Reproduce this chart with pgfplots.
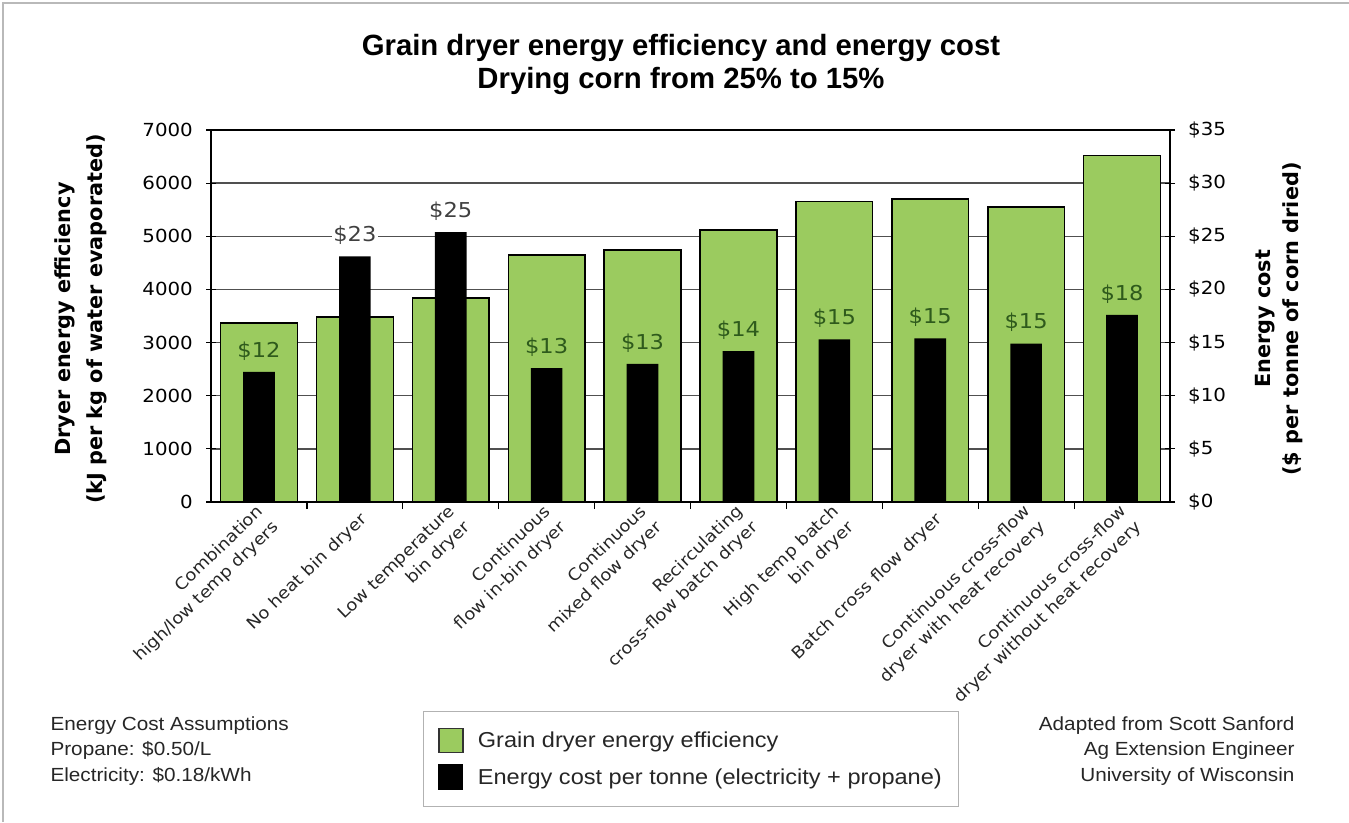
\documentclass[border=0pt]{standalone}
\usepackage{pgfplots}
\usepackage{pgfplotstable}
\pgfplotsset{compat=1.18}
\usepackage{fontspec}
\setmainfont{DejaVu Sans}[FakeStretch=1.1]
\newfontfamily\rotfont{DejaVu Sans}
\newfontfamily\arialfont{Liberation Sans}[FakeStretch=1.09]
\newfontfamily\titlefont{Liberation Sans}
\definecolor{grgreen}{HTML}{9BCB5F}
\definecolor{labgreen}{HTML}{2E5A1C}
\definecolor{labgray}{HTML}{404040}
\definecolor{gridgray}{HTML}{505050}

\pgfplotstableread{
x eff cost
0 3370 12.24
1 3480 23.1
2 3840 25.4
3 4650 12.6
4 4740 13.0
5 5120 14.2
6 5660 15.3
7 5700 15.4
8 5550 14.9
9 6520 17.6
}\datatable

\begin{document}
\begin{tikzpicture}
\path[use as bounding box] (0pt,0pt) rectangle (1349pt,-822pt);
\draw[gray!55, line width=1.2pt] (3pt,-822pt) -- (3pt,-3pt) -- (1349pt,-3pt);

% title
\node[anchor=base, font=\titlefont\bfseries\fontsize{29.3}{32}\selectfont] at (681pt,-55pt) {Grain dryer energy efficiency and energy cost};
\node[anchor=base, font=\titlefont\bfseries\fontsize{29.3}{32}\selectfont] at (681pt,-88pt) {Drying corn from 25\% to 15\%};

\begin{axis}[
  at={(211pt,-502pt)}, anchor=south west,
  scale only axis, width=959pt, height=372pt,
  xmin=-0.5, xmax=9.5, ymin=0, ymax=7000,
  /pgf/number format/assume math mode=true,
  /pgf/number format/1000 sep={},
  xtick={0,...,9},
  xticklabels={{Combination\\high/low temp dryers},{No heat bin dryer},{Low temperature\\bin dryer},{Continuous\\flow in-bin dryer},{Continuous\\mixed flow dryer},{Recirculating\\cross-flow batch dryer},{High temp batch\\bin dryer},{Batch cross flow dryer},{Continuous cross-flow\\dryer with heat recovery},{Continuous cross-flow\\dryer without heat recovery}},
  minor xtick={0.5,1.5,...,8.5},
  xtick pos=bottom, ytick pos=left,
  major x tick style={draw=none},
  minor x tick style={black, line width=1.2pt, yshift=-3.5pt},
  minor tick length=7pt,
  ytick={0,1000,...,7000},
  tick align=center,
  major tick length=10pt,
  y tick style={black, line width=1.2pt},
  ymajorgrids,
  grid style={gridgray, line width=1.5pt},
  axis line style={black, line width=1.8pt},
  yticklabel style={font=\fontsize{18}{20}\selectfont, inner sep=0pt, anchor=east, xshift=-13pt},
  xticklabel style={font=\fontsize{16.4}{22}\selectfont, rotate=44, anchor=east, align=right, inner sep=0pt, yshift=-14pt, text=black!85},
  ylabel={Dryer energy efficiency\\(kJ per kg of water evaporated)},
  ylabel style={align=center, font=\rotfont\bfseries\fontsize{20.8}{32}\selectfont, at={(axis description cs:-0.1356,0.492)}, anchor=center},
]
\addplot[ybar, bar width=0.8, bar shift=0pt, fill=grgreen, draw=black, line width=1.4pt] table[x=x, y=eff] {\datatable};
\end{axis}

\begin{axis}[
  at={(211pt,-502pt)}, anchor=south west,
  scale only axis, width=959pt, height=372pt,
  xmin=-0.5, xmax=9.5, ymin=0, ymax=35,
  axis x line=none, axis y line*=right,
  /pgf/number format/assume math mode=true,
  ytick={0,5,...,35},
  yticklabel={\$\pgfmathprintnumber{\tick}},
  tick align=center,
  major tick length=10pt,
  y tick style={black, line width=1.2pt},
  axis line style={-, black, line width=1.8pt},
  yticklabel style={font=\fontsize{18}{20}\selectfont, inner sep=0pt, anchor=west, xshift=13pt},
  ylabel={Energy cost\\(\$ per tonne of corn dried)},
  ylabel style={align=center, font=\rotfont\bfseries\fontsize{20.8}{28}\selectfont, at={(axis description cs:1.1137,0.492)}, anchor=center},
  legend style={at={(axis description cs:0.5005,-0.562)}, anchor=north, draw=gray!60, line width=1.2pt,
    inner xsep=15pt, inner ysep=16pt, row sep=11pt,
    font=\arialfont\fontsize{21.6}{24}\selectfont, text=black!85,
    cells={anchor=west}},
]
\addlegendimage{legend image code/.code={\draw[fill=grgreen, draw=black!80, line width=1.4pt] (0pt,-12pt) rectangle (24pt,12pt); \path[draw=none, fill=none] (0pt,0pt) -- (37pt,0pt);}}
\addlegendentry{Grain dryer energy efficiency}
\addlegendimage{legend image code/.code={\fill[black] (0pt,-12.5pt) rectangle (24pt,12.5pt); \path[draw=none, fill=none] (0pt,0pt) -- (37pt,0pt);}}
\addlegendentry{Energy cost per tonne (electricity + propane)}
\addplot[ybar, bar width=0.33, bar shift=0pt, fill=black, draw=none, forget plot]
  table[x=x, y=cost] {\datatable};
% labels inside the green bars
\addplot[draw=none, mark=none, forget plot,
  x filter/.expression={(x==1 || x==2) ? nan : x},
  nodes near coords={\$\pgfmathprintnumber[fixed,precision=0]{\pgfplotspointmeta}},
  every node near coord/.append style={font=\fontsize{20.5}{24}\selectfont, text=labgreen, inner sep=1.5pt, anchor=south, yshift=10pt}]
  table[x=x, y=cost] {\datatable};
% labels above the green bars
\addplot[draw=none, mark=none, forget plot,
  x filter/.expression={(x==1 || x==2) ? x : nan},
  nodes near coords={\$\pgfmathprintnumber[fixed,precision=0]{\pgfplotspointmeta}},
  every node near coord/.append style={font=\fontsize{20.5}{24}\selectfont, text=labgray, fill=white, inner sep=1.5pt, anchor=south, yshift=10pt}]
  table[x=x, y=cost] {\datatable};
\end{axis}

% footers
\begin{scope}[every node/.style={font=\arialfont\fontsize{19}{22}\selectfont, text=black!85}]
\node[anchor=base west] at (47pt,-730pt) {Energy Cost Assumptions};
\node[anchor=base west] at (47pt,-755.5pt) {Propane: \$0.50/L};
\node[anchor=base west] at (47pt,-781pt) {Electricity: \$0.18/kWh};
\node[anchor=base east] at (1298pt,-730pt) {Adapted from Scott Sanford};
\node[anchor=base east] at (1298pt,-755.5pt) {Ag Extension Engineer};
\node[anchor=base east] at (1298pt,-781pt) {University of Wisconsin};
\end{scope}
\end{tikzpicture}
\end{document}
